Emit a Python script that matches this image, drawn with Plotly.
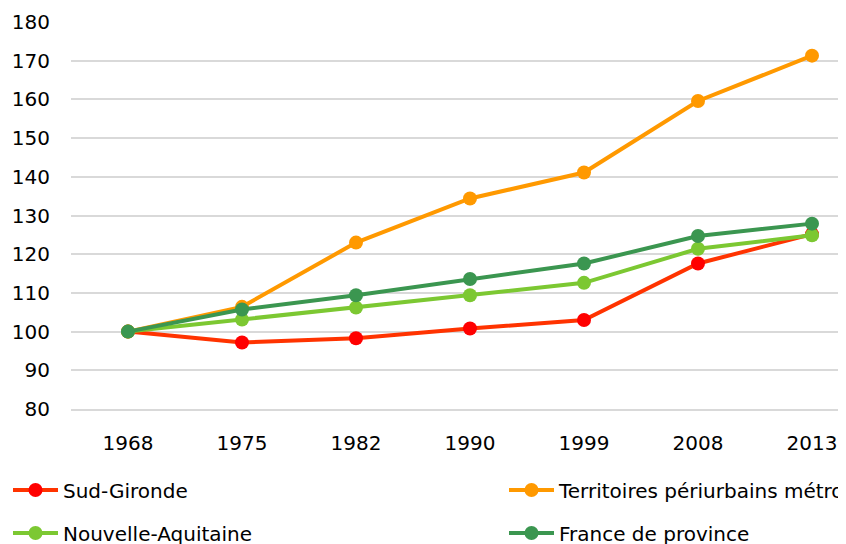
import plotly.graph_objects as go

years = ["1968", "1975", "1982", "1990", "1999", "2008", "2013"]
sud_gironde = [100, 97.2, 98.3, 100.8, 103.0, 117.6, 125.2]
territoires = [100, 106.4, 123.0, 134.4, 141.1, 159.6, 171.3]
nouvelle_aquitaine = [100, 103.1, 106.2, 109.4, 112.6, 121.4, 124.9]
france_province = [100, 105.7, 109.4, 113.6, 117.6, 124.7, 127.9]

names = ["Sud-Gironde", "Territoires périurbains métropolitains",
         "Nouvelle-Aquitaine", "France de province"]
series = [sud_gironde, territoires, nouvelle_aquitaine, france_province]
line_colors = ["#FF3300", "#FF9900", "#7CC832", "#3B9650"]
marker_colors = ["#FF0000", "#FF9900", "#7CC832", "#3B9650"]
legend_ids = ["legend", "legend2", "legend3", "legend4"]

FONT = "DejaVu Sans"
FS = 20

W, H = 838, 536  # page body has an 8px margin

fig = go.Figure()
for n, s, lc, mc, lg in zip(names, series, line_colors, marker_colors, legend_ids):
    fig.add_trace(go.Scatter(
        x=years, y=s, name=n, mode="lines+markers",
        line=dict(color=lc, width=4),
        marker=dict(color=mc, size=14),
        legend=lg,
    ))

legend_common = dict(
    orientation="h", xref="container", yref="container",
    xanchor="left", yanchor="middle",
    font=dict(family=FONT, size=FS, color="#000000"),
    itemwidth=45, bgcolor="rgba(0,0,0,0)", borderwidth=0,
)

row1 = (H - 482) / H
row2 = (H - 525) / H
col1 = -1.5 / W
col2 = 496 / W

fig.update_layout(
    width=W, height=H,
    margin=dict(l=63, r=6, t=14, b=135, autoexpand=False),
    paper_bgcolor="white", plot_bgcolor="white",
    font=dict(family=FONT, size=FS, color="#000000"),
    showlegend=True,
    legend=dict(x=col1, y=row1, **legend_common),
    legend2=dict(x=col2, y=row1, **legend_common),
    legend3=dict(x=col1, y=row2, **legend_common),
    legend4=dict(x=col2, y=row2, **legend_common),
    xaxis=dict(
        type="category", range=[-0.5, (840 - 128) / 114],
        showgrid=False, zeroline=False,
        showline=True, linecolor="#D9D9D9", linewidth=1.5,
        ticks="", ticklabelstandoff=15,
        tickfont=dict(family=FONT, size=FS, color="#000000"),
    ),
    yaxis=dict(
        range=[80, 180], dtick=10, tick0=80,
        showgrid=True, gridcolor="#D9D9D9", gridwidth=1.5,
        zeroline=False, showline=False, ticks="",
        ticklabelstandoff=20,
        tickfont=dict(family=FONT, size=FS, color="#000000"),
    ),
)

fig.write_html("out.html")
